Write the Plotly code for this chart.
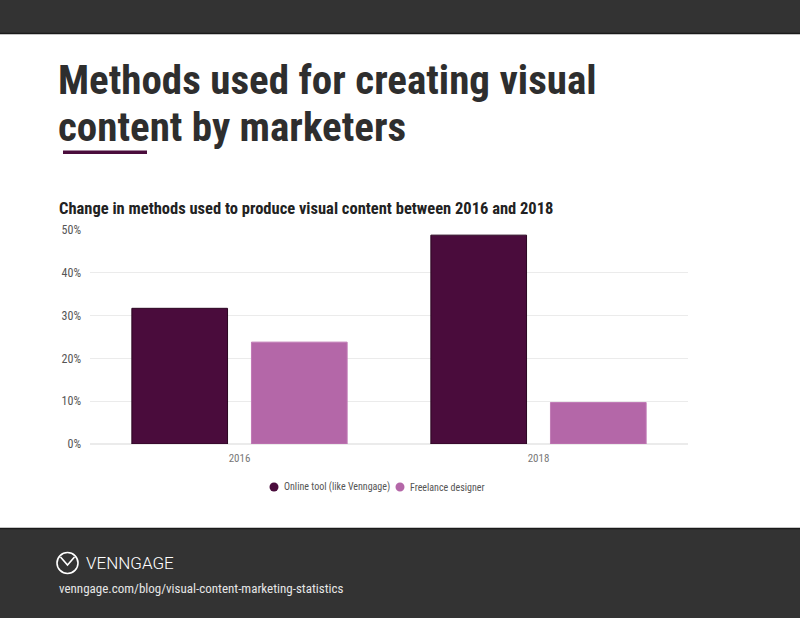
import plotly.graph_objects as go

years = ["2016", "2018"]
online_tool = [31.7, 48.8]
freelance = [23.8, 9.7]
series_names = ["Online tool (like Venngage)", "Freelance designer"]
colors = ["#4a0c3c", "#b467a8"]

title_lines = ["Methods used for creating visual", "content by marketers"]
subtitle = "Change in methods used to produce visual content between 2016 and 2018"
brand = "VENNGAGE"
source_url = "venngage.com/blog/visual-content-marketing-statistics"

NARROW = "Liberation Sans Narrow, Roboto Condensed, Roboto, sans-serif"

fig = go.Figure()
fig.add_trace(go.Bar(x=years, y=online_tool, name=series_names[0],
                     marker=dict(color=colors[0], line=dict(color="#2a0620", width=1)),
                     showlegend=False, hoverinfo="y"))
fig.add_trace(go.Bar(x=years, y=freelance, name=series_names[1],
                     marker=dict(color=colors[1], line=dict(color="#c07ab5", width=1)),
                     showlegend=False, hoverinfo="y"))

fig.update_layout(
    width=800, height=618,
    margin=dict(l=90, r=112, t=230, b=174, autoexpand=False),
    paper_bgcolor="white", plot_bgcolor="white",
    barmode="group", bargap=0.2, bargroupgap=0.2,
    xaxis=dict(showgrid=False, showline=False, ticks="", ticklabelstandoff=6,
               tickfont=dict(family=NARROW, size=11, color="#777777")),
    yaxis=dict(range=[0, 50], dtick=10, ticksuffix="%", showline=False,
               gridcolor="#ebebeb", gridwidth=1, zeroline=True, zerolinecolor="#ebebeb",
               tickfont=dict(family=NARROW, size=12, color="#555555"), ticklabelstandoff=8),
    showlegend=False,
)

def py(ypx):
    return (444 - ypx) / (444 - 230)
def px(xpx):
    return (xpx - 90) / (688 - 90)

fig.add_shape(type="rect", xref="paper", yref="paper", x0=px(-5), x1=px(805),
              y0=py(33), y1=py(-5), fillcolor="#333333", line=dict(width=0), layer="below")
fig.add_shape(type="line", xref="paper", yref="paper", x0=px(-5), x1=px(805),
              y0=py(33.5), y1=py(33.5), line=dict(color="#1a1a1a", width=1.5))
fig.add_shape(type="rect", xref="paper", yref="paper", x0=px(-5), x1=px(805),
              y0=py(623), y1=py(529), fillcolor="#333333", line=dict(width=0), layer="below")
fig.add_shape(type="line", xref="paper", yref="paper", x0=px(-5), x1=px(805),
              y0=py(528.5), y1=py(528.5), line=dict(color="#1a1a1a", width=1.5))
fig.add_shape(type="rect", xref="paper", yref="paper", x0=px(63), x1=px(147),
              y0=py(154), y1=py(150.5), fillcolor="#4a0c3c", line=dict(width=0))
# logo
fig.add_shape(type="circle", xref="paper", yref="paper", x0=px(57), x1=px(78),
              y0=py(573.5), y1=py(552.5), line=dict(color="white", width=1.6))
fig.add_shape(type="path", xref="paper", yref="paper",
              path=f"M {px(60.5)} {py(557)} L {px(67.5)} {py(565)} L {px(74.5)} {py(557)}",
              line=dict(color="white", width=1.6))

# legend (manual, circle markers)
legend_x = [274, 400]
for nm, c, lx in zip(series_names, colors, legend_x):
    fig.add_shape(type="circle", xref="paper", yref="paper",
                  x0=px(lx - 4.5), x1=px(lx + 4.5), y0=py(491.5), y1=py(482.5),
                  fillcolor=c, line=dict(width=0))
    fig.add_annotation(text=nm, xref="paper", yref="paper", x=px(lx + 8), y=py(487),
                       xanchor="left", yanchor="middle", showarrow=False,
                       font=dict(family=NARROW, size=10, color="#555555"))

title_font = "Liberation Sans Narrow, Roboto Condensed, Roboto, sans-serif"
fig.add_annotation(text=title_lines[0], xref="paper", yref="paper", x=px(56), y=py(80),
                   xanchor="left", yanchor="middle", showarrow=False,
                   font=dict(family=title_font, size=41, color="#2e2e2e", weight="bold"))
fig.add_annotation(text=title_lines[1], xref="paper", yref="paper", x=px(56), y=py(127),
                   xanchor="left", yanchor="middle", showarrow=False,
                   font=dict(family=title_font, size=41, color="#2e2e2e", weight="bold"))
fig.add_annotation(text=subtitle, xref="paper", yref="paper", x=px(57), y=py(208),
                   xanchor="left", yanchor="middle", showarrow=False,
                   font=dict(family=title_font, size=16.5, color="#222222", weight="bold"))
fig.add_annotation(text=brand, xref="paper", yref="paper", x=px(84), y=py(563),
                   xanchor="left", yanchor="middle", showarrow=False,
                   font=dict(family="Roboto, sans-serif", size=17, color="white", weight=300))
fig.add_annotation(text=source_url, xref="paper", yref="paper", x=px(57), y=py(588),
                   xanchor="left", yanchor="middle", showarrow=False,
                   font=dict(family=NARROW, size=13, color="#e6e6e6"))

fig.write_html("out.html", config={"displayModeBar": False},
               post_script="document.body.style.margin='0';document.body.style.overflow='hidden';")
